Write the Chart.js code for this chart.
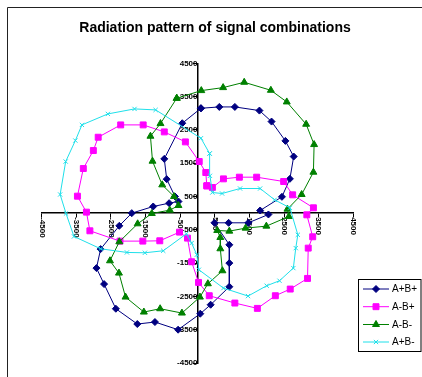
<!DOCTYPE html>
<html>
<head>
<meta charset="utf-8">
<script src="https://cdn.jsdelivr.net/npm/chart.js@4/dist/chart.umd.min.js"></script>
<style>
  html, body { margin: 0; padding: 0; background: #fff; }
  canvas { display: block; }
</style>
</head>
<body>
<canvas id="c" width="422" height="377"></canvas>
<script>
// Radiation pattern of four signal combinations (x/y components)
const chartTitle = 'Radiation pattern of signal combinations';
const seriesNames = ['A+B+', 'A-B+', 'A-B-', 'A+B-'];

// Axis tick values (both axes)
const axisTicks = [-4500, -3500, -2500, -1500, -500, 500, 1500, 2500, 3500, 4500];

// A+B+
const apbpX = [100, 630, 1080, 1790, 2140, 2540, 2780, 2670, 2440, 1810, 2050, 1470, 900, 490, 920, 920, 920, 380, 80, -560, -1230, -1740, -2360, -2700, -2920, -2800, -2260, -1900, -1280, -820, -550, -650, -890, -960, -440, 100];
const apbpY = [3150, 3190, 3190, 3080, 2750, 2170, 1700, 1030, 490, 80, -40, -290, -290, -290, -950, -1500, -2210, -2750, -3020, -3500, -3270, -3330, -2870, -2130, -1650, -1080, -380, 0, 200, 300, 350, 500, 1020, 1630, 2700, 3150];

// A-B+
const ambpX = [270, 240, 50, -350, -960, -1570, -2220, -2870, -3010, -3300, -3470, -3210, -3110, -2240, -1580, -1090, -520, -290, -170, 30, 340, 1080, 1730, 2250, 2680, 3180, 3200, 3330, 3160, 3350, 2750, 2490, 1710, 1210, 750, 430, 270];
const ambpY = [820, 1220, 1550, 2140, 2440, 2650, 2650, 2280, 1880, 1340, 510, 30, -530, -840, -840, -830, -570, -750, -1460, -2080, -2480, -2700, -2860, -2480, -2280, -1960, -1050, -710, -50, 160, 550, 950, 1080, 1080, 1030, 770, 820];

// A-B-
const ambmX = [-600, 110, 740, 1350, 2120, 2580, 3140, 3370, 3350, 3010, 2600, 2640, 1990, 1390, 920, 570, 660, 660, 720, 300, 70, -450, -1080, -1550, -2080, -2270, -2530, -2260, -1730, -1320, -800, -550, -680, -1020, -1300, -1360, -1070, -600];
const ambmY = [3450, 3680, 3770, 3930, 3690, 3340, 2670, 2060, 1230, 560, 120, -100, -390, -450, -540, -520, -730, -1070, -1730, -2120, -2520, -3000, -2870, -2970, -2520, -1800, -1430, -860, -320, -10, 90, 230, 500, 850, 1560, 2310, 2690, 3450];

// A+B-
const apbmX = [350, 100, -1210, -1820, -2590, -3340, -3530, -3810, -3970, -3800, -3570, -2800, -2040, -1520, -990, -320, -170, -20, 40, 750, 1460, 2000, 2370, 2770, 2840, 2900, 2670, 2230, 1810, 1230, 710, 430, 360, 350];
const apbmY = [1790, 2250, 3100, 3130, 2980, 2650, 2180, 1550, 560, -10, -700, -1070, -1180, -1190, -1130, -620, -900, -1250, -1700, -2250, -2490, -2180, -2030, -1650, -1050, -650, 160, 400, 740, 740, 590, 620, 1120, 1790];

const FONT = '"Liberation Sans", Arial, Helvetica, sans-serif';
const pairs = (xs, ys) => xs.map((x, i) => ({ x: x, y: ys[i] }));

function series(label, xs, ys, color, style, radius, order) {
  return {
    label: label,
    data: pairs(xs, ys),
    showLine: true,
    borderColor: color,
    backgroundColor: color,
    borderWidth: 1,
    tension: 0,
    pointStyle: style,
    pointRadius: radius,
    pointBorderWidth: 1,
    pointBackgroundColor: color,
    pointBorderColor: color,
    order: order
  };
}

const datasets = [
  series(seriesNames[0], apbpX, apbpY, '#000080', 'rectRot', 3.5, 4),
  series(seriesNames[1], ambpX, ambpY, '#ff00ff', 'rect', 4.2, 3),
  series(seriesNames[2], ambmX, ambmY, '#008000', 'triangle', 4, 2),
  series(seriesNames[3], apbmX, apbmY, '#1fe0ea', 'crossRot', 3, 1)
];

// Outer frame and title
const frameTitle = {
  id: 'frameTitle',
  beforeDraw(chart) {
    const ctx = chart.ctx;
    ctx.save();
    ctx.fillStyle = '#fff';
    ctx.fillRect(0, 0, chart.width, chart.height);
    ctx.strokeStyle = '#222';
    ctx.lineWidth = 1;
    ctx.beginPath();
    ctx.moveTo(7.5, chart.height);
    ctx.lineTo(7.5, 7.5);
    ctx.lineTo(chart.width, 7.5);
    ctx.stroke();
    ctx.fillStyle = '#000';
    ctx.font = 'bold 14px ' + FONT;
    ctx.textAlign = 'center';
    ctx.textBaseline = 'middle';
    ctx.fillText(chartTitle, 215, 28);
    ctx.restore();
  }
};

// Vertical x-axis labels hanging below the horizontal axis
const xAxisLabels = {
  id: 'xAxisLabels',
  beforeDatasetsDraw(chart) {
    const ctx = chart.ctx;
    const xs = chart.scales.x, ys = chart.scales.y;
    const y0 = ys.getPixelForValue(0);
    ctx.save();
    ctx.fillStyle = '#000';
    ctx.font = 'bold 8px ' + FONT;
    ctx.textAlign = 'left';
    ctx.textBaseline = 'middle';
    xs.ticks.forEach(t => {
      const px = xs.getPixelForValue(t.value);
      ctx.save();
      ctx.translate(px, y0 + 4);
      ctx.rotate(Math.PI / 2);
      ctx.fillText(String(t.value), 0, 0);
      ctx.restore();
    });
    ctx.restore();
  }
};

// Boxed legend at the lower right
const boxLegend = {
  id: 'boxLegend',
  afterDraw(chart) {
    const ctx = chart.ctx;
    const left = 358.5, top = 279.5, w = 62.5, h = 72;
    const rows = [289, 306.7, 324.5, 342];
    ctx.save();
    ctx.fillStyle = '#fff';
    ctx.fillRect(left, top, w, h);
    ctx.strokeStyle = '#000';
    ctx.lineWidth = 1;
    ctx.strokeRect(left, top, w, h);
    ctx.font = '10px ' + FONT;
    ctx.textAlign = 'left';
    ctx.textBaseline = 'middle';
    chart.data.datasets.forEach((ds, i) => {
      const y = rows[i];
      ctx.strokeStyle = ds.borderColor;
      ctx.fillStyle = ds.backgroundColor;
      ctx.lineWidth = 1;
      ctx.beginPath();
      ctx.moveTo(363, y);
      ctx.lineTo(389, y);
      ctx.stroke();
      Chart.helpers.drawPoint(ctx, { pointStyle: ds.pointStyle, radius: ds.pointRadius, rotation: 0, borderWidth: 1 }, 376, y);
      ctx.fillStyle = '#000';
      ctx.fillText(ds.label, 392, y + 0.5);
    });
    ctx.restore();
  }
};

const axisCommon = {
  type: 'linear',
  min: -4500,
  max: 4500,
  afterBuildTicks: s => { s.ticks = axisTicks.map(v => ({ value: v })); },
  grid: { drawOnChartArea: false, drawTicks: true, tickLength: 4, color: '#000', lineWidth: 1 },
  border: { display: true, color: '#000', width: 1.5, dash: [3, 3] }
};

new Chart(document.getElementById('c'), {
  type: 'scatter',
  data: { datasets: datasets },
  options: {
    responsive: false,
    animation: false,
    devicePixelRatio: 1,
    layout: { padding: { left: 41.8, right: 68.8, top: 63.3, bottom: 14 } },
    plugins: { legend: { display: false }, tooltip: { enabled: false }, title: { display: false } },
    scales: {
      x: Object.assign({}, axisCommon, {
        position: { y: 0 },
        afterFit: s => { s.height = 0; },
        ticks: { display: false }
      }),
      y: Object.assign({}, axisCommon, {
        position: { x: 0 },
        afterFit: s => { s.width = 0; },
        ticks: {
          color: '#000',
          padding: 3,
          font: { family: FONT, size: 8, weight: 'bold' },
          callback: v => String(v)
        }
      })
    }
  },
  plugins: [frameTitle, xAxisLabels, boxLegend]
});
</script>
</body>
</html>
